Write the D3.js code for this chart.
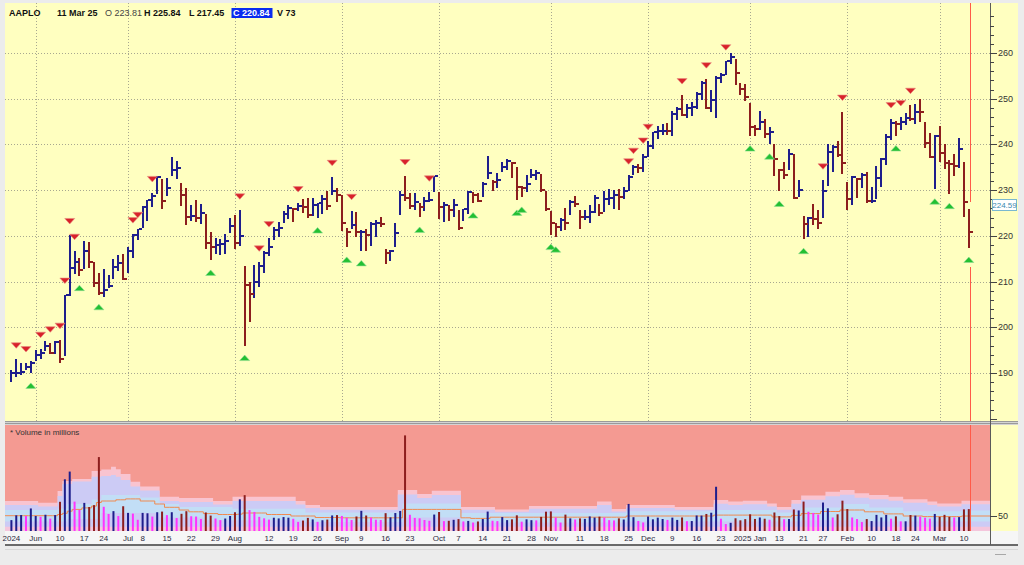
<!DOCTYPE html>
<html>
<head>
<meta charset="UTF-8" />
<style>
  body { margin: 0; background: #ececec; }
  svg { display: block; font-family: "Liberation Sans", Arial, sans-serif; }
</style>
</head>
<body>
<svg id="chart" width="1024" height="565"></svg>
<script src="https://cdnjs.cloudflare.com/ajax/libs/d3/7.8.5/d3.min.js"></script>
<script>
// ---- trading calendar ----
const firstDay = "2024-05-24", lastDay = "2025-03-11";
const holidays = ["2024-05-27", "2024-06-19", "2024-07-04", "2024-09-02", "2024-11-28",
  "2024-12-25", "2025-01-01", "2025-01-09", "2025-01-20", "2025-02-17"];

// ---- daily bars (high / low / close), one line per month ----
const highs = [
  190.58, 193.00, 192.25, 192.18, 192.57,
  194.99, 195.32, 196.90, 196.50, 196.94, 197.30, 207.16, 220.20, 216.75, 215.17, 218.95, 218.63, 214.24, 211.89, 212.70, 211.38, 214.86, 215.74, 216.07,
  217.51, 220.38, 221.55, 226.45, 227.85, 229.40, 233.08, 232.39, 232.64, 237.23, 236.27, 231.46, 230.44, 226.80, 227.78, 226.94, 224.80, 220.85, 219.49, 219.30, 220.33, 223.82,
  224.48, 225.60, 213.50, 209.99, 213.64, 214.20, 216.78, 219.51, 221.89, 223.03, 225.35, 226.83, 225.99, 227.17, 227.98, 228.34, 228.22, 227.28, 228.85, 229.86, 232.92, 230.40,
  229.00, 221.78, 225.48, 225.24, 221.27, 221.48, 223.09, 223.55, 224.04, 217.22, 216.90, 222.71, 229.82, 233.09, 229.45, 229.35, 227.29, 228.50, 229.52, 233.00,
  229.65, 227.37, 226.81, 228.00, 225.69, 225.98, 229.75, 229.50, 229.41, 231.73, 237.49, 232.12, 233.85, 236.18, 236.85, 236.22, 235.14, 230.82, 233.22, 234.73, 234.33, 233.47, 229.83,
  225.35, 222.79, 223.95, 226.07, 227.88, 228.66, 225.70, 225.59, 226.65, 228.87, 226.92, 229.74, 230.16, 229.93, 230.16, 230.72, 233.25, 235.57, 235.69, 237.81,
  240.79, 242.76, 244.11, 244.54, 244.63, 247.24, 248.21, 250.80, 248.74, 249.29, 251.38, 253.83, 254.28, 252.00, 255.00, 255.65, 258.21, 260.10, 258.70, 253.50, 253.28,
  249.10, 244.18, 247.33, 245.55, 243.71, 240.16, 234.67, 236.12, 238.96, 238.01, 232.29, 224.42, 224.12, 227.03, 225.63, 232.15, 240.19, 239.86, 240.79, 247.19,
  231.83, 233.13, 232.67, 233.80, 234.00, 230.59, 235.23, 236.96, 242.34, 245.55, 245.18, 246.01, 246.78, 248.69, 248.86, 250.00, 244.98, 242.46, 242.09,
  244.03, 240.07, 236.55, 237.86, 241.37, 236.16, 225.84
];
const lows = [
  188.04, 189.10, 189.51, 190.63, 189.91,
  192.52, 193.03, 194.87, 194.17, 194.14, 192.15, 193.63, 206.90, 211.60, 211.30, 212.72, 213.00, 208.85, 207.11, 206.59, 208.61, 210.64, 212.35, 210.30,
  211.92, 215.10, 219.03, 221.65, 223.25, 226.37, 229.25, 225.77, 228.68, 233.09, 232.33, 226.64, 222.27, 223.28, 223.09, 222.68, 217.13, 214.62, 216.01, 215.75, 216.12, 220.63,
  217.02, 217.71, 196.00, 201.07, 206.39, 208.83, 211.97, 215.60, 219.01, 219.70, 222.76, 223.65, 223.04, 225.45, 225.05, 223.90, 224.33, 223.89, 224.89, 225.68, 228.88, 227.48,
  221.17, 217.48, 221.52, 219.77, 216.71, 216.73, 217.89, 219.82, 221.91, 213.92, 214.50, 217.54, 224.63, 227.62, 225.81, 225.73, 224.02, 225.41, 227.30, 229.65,
  223.74, 223.02, 223.32, 224.13, 221.33, 223.25, 224.83, 227.17, 227.34, 228.60, 232.37, 229.84, 230.52, 234.01, 234.45, 232.60, 227.76, 228.41, 229.57, 232.55, 232.32, 229.55, 225.37,
  220.27, 219.71, 221.14, 221.19, 224.57, 226.41, 221.50, 223.36, 222.76, 225.00, 224.27, 225.17, 226.66, 225.89, 225.71, 228.06, 229.74, 233.33, 233.81, 233.97,
  237.16, 238.90, 241.25, 242.13, 242.08, 241.75, 245.34, 246.26, 245.68, 246.24, 247.65, 249.78, 247.74, 247.09, 245.69, 253.45, 255.29, 257.63, 253.06, 250.75, 249.43,
  241.82, 241.89, 243.20, 241.35, 240.05, 233.00, 229.72, 232.47, 234.43, 228.03, 228.48, 219.38, 219.79, 222.30, 221.41, 223.98, 230.81, 234.01, 237.21, 233.44,
  225.70, 226.65, 228.27, 230.43, 227.26, 227.20, 228.13, 230.68, 235.57, 240.99, 241.84, 243.16, 244.29, 245.22, 244.42, 244.91, 239.13, 237.06, 230.20,
  236.11, 234.68, 229.23, 233.16, 234.76, 224.22, 217.45
];
const closes = [
  189.98, 189.99, 190.29, 191.29, 192.25,
  194.03, 194.35, 195.87, 194.48, 196.89, 193.12, 207.15, 213.07, 214.24, 212.49, 216.67, 214.29, 209.68, 207.49, 208.14, 209.07, 213.25, 214.10, 210.62,
  216.75, 220.27, 221.55, 226.34, 227.82, 228.68, 232.98, 227.57, 230.54, 234.40, 234.82, 228.88, 224.18, 224.31, 223.96, 225.01, 218.54, 217.49, 217.96, 218.24, 218.80, 222.08,
  218.36, 219.86, 209.27, 207.23, 209.82, 213.31, 216.24, 217.53, 221.27, 221.72, 224.72, 226.05, 225.89, 226.51, 226.40, 224.53, 226.84, 227.18, 228.03, 226.49, 229.79, 229.00,
  222.77, 220.85, 222.38, 220.82, 220.91, 220.11, 222.66, 222.77, 222.50, 216.32, 216.79, 220.69, 228.87, 228.20, 226.47, 227.37, 226.37, 227.52, 227.79, 233.00,
  226.21, 226.78, 225.67, 226.80, 221.69, 225.77, 229.54, 229.04, 227.55, 231.30, 233.85, 231.78, 232.15, 235.00, 236.48, 235.86, 230.76, 230.57, 231.41, 233.40, 233.67, 230.10, 225.91,
  222.91, 222.01, 223.45, 222.72, 227.48, 226.96, 224.23, 224.23, 225.12, 228.22, 225.00, 228.02, 228.28, 229.00, 228.52, 229.87, 232.87, 235.06, 234.93, 237.33,
  239.59, 242.65, 243.01, 243.04, 242.84, 246.75, 247.77, 246.49, 247.96, 248.13, 251.04, 253.48, 248.05, 249.79, 254.49, 255.27, 258.20, 259.02, 255.59, 252.20, 250.42,
  243.85, 243.36, 245.00, 242.21, 242.70, 236.85, 234.40, 233.28, 237.87, 228.26, 229.98, 222.64, 223.83, 223.66, 222.78, 229.86, 238.26, 239.36, 237.59, 236.00,
  228.01, 232.80, 232.47, 233.22, 227.63, 227.65, 232.62, 236.87, 241.53, 244.60, 244.47, 244.87, 245.83, 245.55, 247.10, 247.04, 240.36, 237.30, 241.84,
  238.03, 235.93, 235.74, 235.33, 239.07, 227.48, 220.84
];
// volume in millions
const volumes = [
  36.3, 52.3, 53.1, 49.9, 75.2,
  50.1, 47.5, 54.2, 41.2, 53.1, 97.3, 172.4, 198.1, 97.9, 70.1, 93.7, 79.9, 86.2, 246.4, 80.7, 56.7, 66.2, 49.8, 82.5,
  60.4, 58.0, 37.4, 60.4, 59.1, 48.1, 62.6, 64.7, 53.0, 62.6, 43.2, 57.3, 66.0, 49.2, 48.2, 39.9, 61.8, 51.4, 41.6, 36.3, 41.6, 50.0,
  62.5, 105.6, 119.5, 69.7, 63.5, 47.2, 42.2, 38.0, 44.2, 41.9, 46.4, 44.3, 40.7, 30.3, 34.8, 43.7, 38.7, 30.6, 35.9, 38.1, 51.9, 53.0,
  50.2, 43.8, 36.6, 48.4, 67.2, 51.6, 44.6, 37.5, 36.8, 59.4, 45.5, 59.9, 66.8, 318.7, 54.1, 43.6, 42.3, 36.6, 34.0, 54.8,
  63.3, 32.9, 34.0, 37.3, 39.5, 31.9, 33.6, 28.2, 31.8, 39.9, 64.8, 34.1, 33.0, 46.4, 36.3, 38.8, 52.3, 31.1, 38.8, 36.1, 35.4, 47.1, 64.4,
  65.3, 44.9, 28.1, 54.6, 42.1, 38.3, 42.0, 40.4, 48.6, 44.9, 47.8, 44.7, 36.2, 35.2, 42.1, 38.2, 90.2, 46.0, 33.5, 28.5,
  48.1, 38.9, 44.4, 40.0, 36.9, 44.6, 36.9, 45.2, 32.8, 33.2, 51.7, 51.4, 56.8, 60.9, 147.5, 40.9, 23.2, 27.3, 42.4, 35.6, 39.5,
  55.7, 40.2, 45.0, 40.9, 37.6, 61.7, 49.6, 39.4, 39.8, 71.8, 68.5, 98.1, 64.1, 60.2, 54.7, 94.9, 75.7, 45.1, 55.7, 101.1,
  73.1, 45.1, 39.7, 29.9, 39.7, 33.1, 53.7, 45.2, 53.6, 40.9, 48.8, 32.2, 32.3, 53.2, 51.3, 48.0, 44.4, 41.2, 56.8,
  47.2, 53.8, 47.2, 45.2, 46.3, 72.1, 73.0
];

// swing markers
const peakDates = ["2024-05-28", "2024-05-30", "2024-06-04", "2024-06-06", "2024-06-10", "2024-06-11", "2024-06-12",
  "2024-06-13", "2024-07-02", "2024-07-03", "2024-07-09", "2024-08-02", "2024-08-08", "2024-08-12", "2024-08-20",
  "2024-08-29", "2024-09-05", "2024-09-20", "2024-09-27", "2024-11-25", "2024-11-26", "2024-11-29", "2024-12-02",
  "2024-12-11", "2024-12-18", "2024-12-24", "2025-01-27", "2025-01-31", "2025-02-14", "2025-02-19", "2025-02-21"];
const troughDates = ["2024-05-31", "2024-06-14", "2024-06-21", "2024-07-25", "2024-08-05", "2024-08-26", "2024-09-04",
  "2024-09-09", "2024-09-25", "2024-10-10", "2024-10-23", "2024-10-24", "2024-11-01", "2024-11-04", "2025-01-02",
  "2025-01-08", "2025-01-13", "2025-01-21", "2025-02-18", "2025-02-28", "2025-03-05", "2025-03-11"];

// volume envelope, [from date, level in millions]
const bandOuter = [["2024-05-24", 100], ["2024-06-04", 94], ["2024-06-10", 133], ["2024-06-11", 167], ["2024-06-13", 173],
  ["2024-06-20", 200], ["2024-06-24", 205], ["2024-06-26", 214], ["2024-06-27", 206], ["2024-06-28", 190], ["2024-07-02", 164],
  ["2024-07-05", 148], ["2024-07-11", 114], ["2024-07-17", 110], ["2024-07-26", 100], ["2024-08-01", 114], ["2024-08-20", 100],
  ["2024-08-22", 87], ["2024-08-27", 80], ["2024-09-19", 137], ["2024-09-25", 123], ["2024-09-30", 134], ["2024-10-08", 80],
  ["2024-10-17", 72], ["2024-10-28", 83], ["2024-11-15", 98], ["2024-11-20", 73], ["2024-11-25", 87], ["2024-12-10", 80],
  ["2024-12-20", 103], ["2024-12-26", 98], ["2024-12-31", 101], ["2025-01-08", 92], ["2025-01-13", 80], ["2025-01-16", 103],
  ["2025-01-21", 118], ["2025-01-28", 131], ["2025-01-31", 137], ["2025-02-05", 126], ["2025-02-10", 120], ["2025-02-14", 114],
  ["2025-02-20", 106], ["2025-02-27", 98], ["2025-03-03", 92], ["2025-03-10", 101]];
const bandInner = [["2024-05-24", 87], ["2024-06-04", 82], ["2024-06-10", 117], ["2024-06-11", 157], ["2024-06-13", 165],
  ["2024-06-20", 181], ["2024-06-24", 183], ["2024-06-26", 187], ["2024-06-27", 181], ["2024-06-28", 170], ["2024-07-02", 148],
  ["2024-07-05", 135], ["2024-07-11", 100], ["2024-07-17", 97], ["2024-07-26", 88], ["2024-08-01", 100], ["2024-08-20", 88],
  ["2024-08-22", 77], ["2024-08-27", 71], ["2024-09-19", 122], ["2024-09-25", 110], ["2024-09-30", 120], ["2024-10-08", 71],
  ["2024-10-17", 64], ["2024-10-28", 74], ["2024-11-15", 87], ["2024-11-20", 65], ["2024-11-25", 77], ["2024-12-10", 71],
  ["2024-12-20", 91], ["2024-12-26", 87], ["2024-12-31", 89], ["2025-01-08", 82], ["2025-01-13", 71], ["2025-01-16", 91],
  ["2025-01-21", 104], ["2025-01-28", 116], ["2025-01-31", 121], ["2025-02-05", 111], ["2025-02-10", 106], ["2025-02-14", 101],
  ["2025-02-20", 94], ["2025-02-27", 87], ["2025-03-03", 82], ["2025-03-10", 89]];
const bandMidTop = [["2024-05-24", 70], ["2024-06-10", 74], ["2024-06-12", 90], ["2024-06-20", 105], ["2024-06-24", 120],
  ["2024-07-05", 112], ["2024-07-11", 90], ["2024-07-17", 80], ["2024-08-01", 74], ["2024-08-22", 62], ["2024-09-20", 92],
  ["2024-10-08", 60], ["2024-11-25", 66], ["2024-12-20", 70], ["2025-01-13", 62], ["2025-01-21", 78], ["2025-01-31", 90],
  ["2025-02-10", 78], ["2025-02-20", 66], ["2025-03-10", 68]];
const bandMidLow = [["2024-05-24", 32], ["2024-06-12", 40], ["2024-06-24", 60], ["2024-07-11", 45], ["2024-07-24", 36],
  ["2024-08-22", 30], ["2024-09-20", 45], ["2024-10-08", 28], ["2024-11-25", 32], ["2025-01-21", 36], ["2025-02-10", 32]];
const bandFloor = [["2024-05-24", 14]];
const volAvg = [["2024-05-24", 51], ["2024-06-10", 55], ["2024-06-11", 59], ["2024-06-12", 66], ["2024-06-13", 72],
  ["2024-06-17", 77], ["2024-06-20", 83], ["2024-06-21", 95], ["2024-06-24", 100], ["2024-06-27", 104], ["2024-07-01", 107],
  ["2024-07-05", 100], ["2024-07-10", 90], ["2024-07-12", 79], ["2024-07-17", 70], ["2024-07-19", 64], ["2024-07-24", 58],
  ["2024-07-29", 55], ["2024-08-02", 56], ["2024-08-05", 60], ["2024-08-12", 55], ["2024-08-19", 50], ["2024-08-26", 45],
  ["2024-09-03", 44], ["2024-09-20", 72], ["2024-10-08", 44], ["2024-10-10", 42], ["2024-10-16", 46], ["2024-11-25", 50],
  ["2024-12-20", 53], ["2025-01-10", 47], ["2025-01-16", 52], ["2025-01-21", 58], ["2025-01-27", 65], ["2025-01-31", 70],
  ["2025-02-07", 64], ["2025-02-13", 57], ["2025-02-20", 50], ["2025-02-26", 48], ["2025-03-10", 50]];

// date axis labels
const dateTicks = [["2024-05-24", "2024"], ["2024-06-03", "Jun"], ["2024-06-10", "10"], ["2024-06-17", "17"],
  ["2024-06-24", "24"], ["2024-07-01", "Jul"], ["2024-07-05", "8"], ["2024-07-12", "15"], ["2024-07-19", "22"],
  ["2024-07-26", "29"], ["2024-08-01", "Aug"], ["2024-08-12", "12"], ["2024-08-19", "19"], ["2024-08-26", "26"],
  ["2024-09-03", "Sep"], ["2024-09-09", "9"], ["2024-09-16", "16"], ["2024-09-23", "23"], ["2024-10-01", "Oct"],
  ["2024-10-07", "7"], ["2024-10-14", "14"], ["2024-10-21", "21"], ["2024-10-28", "28"], ["2024-11-01", "Nov"],
  ["2024-11-11", "11"], ["2024-11-18", "18"], ["2024-11-25", "25"], ["2024-12-02", "Dec"], ["2024-12-09", "9"],
  ["2024-12-16", "16"], ["2024-12-23", "23"], ["2025-01-02", "2025 Jan"], ["2025-01-13", "13"], ["2025-01-21", "21"],
  ["2025-01-27", "27"], ["2025-02-03", "Feb"], ["2025-02-10", "10"], ["2025-02-18", "18"], ["2025-02-24", "24"],
  ["2025-03-03", "Mar"], ["2025-03-10", "10"]];
const monthNames = ["Jun", "Jul", "Aug", "Sep", "Oct", "Nov", "Dec", "2025 Jan", "Feb", "Mar"];
const priceTicks = [190, 200, 210, 220, 230, 240, 250, 260];
const lastLabel = 224.59;
const header = { sym: "AAPLO", date: "11 Mar 25", o: "O 223.81", h: "H 225.84", l: "L 217.45", c: "C 220.84", v: "V 73" };

// ---- build rows ----
const parse = d3.timeParse("%Y-%m-%d"), fmt = d3.timeFormat("%Y-%m-%d");
const days = d3.timeDay.range(parse(firstDay), d3.timeDay.offset(parse(lastDay), 1))
  .filter(d => d.getDay() !== 0 && d.getDay() !== 6 && !holidays.includes(fmt(d)))
  .map(fmt);
const n = days.length;
const idx = new Map(days.map((d, i) => [d, i]));
const bars = days.map((d, i) => ({
  d, i, h: highs[i], l: lows[i], c: closes[i], v: volumes[i],
  up: i === 0 ? true : closes[i] >= closes[i - 1],
  // volume below both of the two previous sessions
  quiet: i > 1 && volumes[i] < volumes[i - 1] && volumes[i] < volumes[i - 2]
}));

function stepValues(runs) {
  const out = new Array(n);
  runs.forEach(([d, v], k) => {
    const s = idx.get(d), e = k + 1 < runs.length ? idx.get(runs[k + 1][0]) : n;
    for (let i = s; i < e; i++) out[i] = v;
  });
  return out;
}

// ---- layout ----
const W = 1024, H = 565;
const plotL = 5, plotR = 990, axisR = 1018;
const pTop = 3, pBot = 421, vTop = 425, vBot = 531, dBot = 545;

const svg = d3.select("#chart");
const x = d3.scalePoint().domain(days).range([11.4, 968.8]);
const step = x.step();
const y = d3.scaleLinear().domain([190, 260]).range([373, 53]);
const yv = d3.scaleLinear().domain([0, 50]).range([vBot, vBot - 15]);

const BLUE = "#1e1e8c", RED = "#8c1e1e", MAG = "#ff33ff";

// backgrounds
svg.append("rect").attr("width", W).attr("height", H).attr("fill", "#ececec");
svg.append("rect").attr("x", plotL).attr("y", pTop).attr("width", axisR - plotL).attr("height", pBot - pTop).attr("fill", "#ffffc0");
svg.append("rect").attr("x", plotL).attr("y", pBot).attr("width", axisR - plotL).attr("height", vTop - pBot).attr("fill", "#d4d4d4");
svg.append("line").attr("x1", plotL).attr("x2", axisR).attr("y1", pBot + 0.5).attr("y2", pBot + 0.5).attr("stroke", "#9a9a9a");
svg.append("line").attr("x1", plotL).attr("x2", axisR).attr("y1", vTop - 1.5).attr("y2", vTop - 1.5).attr("stroke", "#9a9a9a");
svg.append("rect").attr("x", plotL).attr("y", vTop).attr("width", plotR - plotL).attr("height", vBot - vTop).attr("fill", "#f49a92");
svg.append("rect").attr("x", plotR).attr("y", vTop).attr("width", axisR - plotR).attr("height", vBot - vTop).attr("fill", "#ffffc0");
svg.append("rect").attr("x", plotL).attr("y", vBot).attr("width", axisR - plotL).attr("height", dBot - vBot).attr("fill", "#f6f6f6");
svg.append("line").attr("x1", plotL).attr("x2", axisR).attr("y1", dBot).attr("y2", dBot).attr("stroke", "#6a6a6a").attr("stroke-width", 2);
svg.append("line").attr("x1", plotL).attr("x2", axisR).attr("y1", dBot + 4.5).attr("y2", dBot + 4.5).attr("stroke", "#d8d8d8");
svg.append("line").attr("x1", 995).attr("x2", 1006).attr("y1", 554.5).attr("y2", 554.5).attr("stroke", "#a8a8a8");

// ---- volume envelope ----
function bandPoints(hi, lo) {
  const pts = days.map((d, i) => ({ x: i === 0 ? plotL : x(d) - step / 2, hi: hi[i], lo: lo ? lo[i] : 0 }));
  pts.push({ x: plotR, hi: hi[n - 1], lo: lo ? lo[n - 1] : 0 });
  return pts;
}
const area = d3.area().curve(d3.curveStepAfter).x(p => p.x).y0(p => yv(p.lo)).y1(p => yv(p.hi));
const gBand = svg.append("g");
gBand.append("path").attr("d", area(bandPoints(stepValues(bandOuter)))).attr("fill", "#f9c4d0");
gBand.append("path").attr("d", area(bandPoints(stepValues(bandInner)))).attr("fill", "#cccbf5");
gBand.append("path").attr("d", area(bandPoints(stepValues(bandMidTop), stepValues(bandMidLow)))).attr("fill", "#c2def6");
gBand.append("path").attr("d", area(bandPoints(stepValues(bandFloor)))).attr("fill", "#f4c6dc");
const avgLine = d3.line().curve(d3.curveStepAfter).x(p => p.x).y(p => yv(p.hi));
gBand.append("path").attr("d", avgLine(bandPoints(stepValues(volAvg)))).attr("fill", "none")
  .attr("stroke", "#f08a50").attr("stroke-width", 1);

// volume bars
svg.append("g").selectAll("rect").data(bars).join("rect")
  .attr("x", b => x(b.d) - 1).attr("width", 2)
  .attr("y", b => yv(b.v)).attr("height", b => yv(0) - yv(b.v))
  .attr("fill", b => b.quiet ? MAG : (b.up ? BLUE : RED));

svg.append("text").attr("x", 10).attr("y", 435).attr("font-size", 8).attr("fill", "#333")
  .text("* Volume in millions");

// ---- price grid ----
const gGrid = svg.append("g").attr("stroke", "#a8a890").attr("stroke-dasharray", "1,2");
gGrid.selectAll("line.h").data(priceTicks).join("line")
  .attr("x1", plotL).attr("x2", plotR).attr("y1", t => Math.round(y(t)) + 0.5).attr("y2", t => Math.round(y(t)) + 0.5);
gGrid.selectAll("line.v").data(dateTicks.filter(t => monthNames.includes(t[1]))).join("line")
  .attr("x1", t => Math.round(x(t[0])) + 0.5).attr("x2", t => Math.round(x(t[0])) + 0.5)
  .attr("y1", pTop).attr("y2", pBot);

// last-bar marker line
const lastX = Math.round(x(days[n - 1])) + 1.5;
svg.append("g").attr("stroke", "#ff5a48").attr("stroke-width", 1).selectAll("line")
  .data([[pTop, 202], [267, pBot], [vTop, vBot]]).join("line")
  .attr("x1", lastX).attr("x2", lastX).attr("y1", s => s[0]).attr("y2", s => s[1]);

// ---- HLC bars ----
const gBars = svg.append("g").attr("shape-rendering", "crispEdges");
gBars.selectAll("rect.r").data(bars).join("rect")
  .attr("x", b => Math.round(x(b.d)) - 1).attr("width", 2)
  .attr("y", b => y(b.h)).attr("height", b => Math.max(1, y(b.l) - y(b.h)))
  .attr("fill", b => b.up ? BLUE : RED);
gBars.selectAll("rect.c").data(bars).join("rect")
  .attr("x", b => Math.round(x(b.d)) + 1).attr("width", 3)
  .attr("y", b => Math.round(y(b.c)) - 1).attr("height", 2)
  .attr("fill", b => b.up ? BLUE : RED);

// swing triangles
svg.append("g").selectAll("path").data(peakDates).join("path")
  .attr("d", d => {
    const cx = x(d), ty = y(highs[idx.get(d)]) - 16.5;
    return `M${cx - 5},${ty}L${cx + 5},${ty}L${cx},${ty + 5.5}Z`;
  })
  .attr("fill", "#d8222a").attr("stroke", "#e88a80").attr("stroke-width", 0.6);
svg.append("g").selectAll("path").data(troughDates).join("path")
  .attr("d", d => {
    const cx = x(d), by = y(lows[idx.get(d)]) + 15;
    return `M${cx - 5},${by}L${cx + 5},${by}L${cx},${by - 5.5}Z`;
  })
  .attr("fill", "#22c032").attr("stroke", "#90dc90").attr("stroke-width", 0.6);

// ---- right axis ----
svg.append("line").attr("x1", plotR + 0.5).attr("x2", plotR + 0.5).attr("y1", pTop).attr("y2", dBot)
  .attr("stroke", "#5a5a5a");
const minor = d3.range(180, 270, 2);
svg.append("g").attr("stroke", "#444").selectAll("line").data(minor).join("line")
  .attr("x1", plotR).attr("x2", t => t % 10 === 0 ? plotR + 7 : plotR + 4)
  .attr("y1", t => Math.round(y(t)) + 0.5).attr("y2", t => Math.round(y(t)) + 0.5);
svg.append("g").selectAll("text").data(priceTicks).join("text")
  .attr("x", plotR + 8).attr("y", t => y(t) + 3).attr("font-size", 9).attr("fill", "#333")
  .text(t => t);
svg.append("line").attr("x1", plotR).attr("x2", plotR + 7).attr("y1", Math.round(yv(50)) + 0.5)
  .attr("y2", Math.round(yv(50)) + 0.5).attr("stroke", "#444");
svg.append("text").attr("x", plotR + 8).attr("y", yv(50) + 3).attr("font-size", 9).attr("fill", "#333").text("50");

// last value box
const boxY = Math.round(y(lastLabel) - 15.5) + 0.5;
svg.append("rect").attr("x", 992.5).attr("y", boxY).attr("width", 24).attr("height", 11)
  .attr("fill", "#ffffff").attr("stroke", "#7ab8d0");
svg.append("text").attr("x", 1004.5).attr("y", boxY + 8.5).attr("text-anchor", "middle")
  .attr("font-size", 8).attr("fill", "#3a8ab0").text(lastLabel.toFixed(2));

// ---- date axis ----
svg.append("g").selectAll("text").data(dateTicks).join("text")
  .attr("x", t => x(t[0])).attr("y", 541).attr("text-anchor", "middle")
  .attr("font-size", 8).attr("fill", "#2a2a40").text(t => t[1]);

// ---- header ----
const hdr = svg.append("g").attr("font-size", 9).attr("font-weight", "bold").attr("fill", "#111");
hdr.append("text").attr("x", 9).attr("y", 16).text(header.sym);
hdr.append("text").attr("x", 57).attr("y", 16).text(header.date);
hdr.append("text").attr("x", 105).attr("y", 16).attr("font-weight", "normal").attr("fill", "#444").text(header.o);
hdr.append("text").attr("x", 144).attr("y", 16).text(header.h);
hdr.append("text").attr("x", 189).attr("y", 16).text(header.l);
hdr.append("rect").attr("x", 231.5).attr("y", 8).attr("width", 41).attr("height", 10).attr("fill", "#0a2cf0");
hdr.append("text").attr("x", 233).attr("y", 16).attr("fill", "#fff").text(header.c);
hdr.append("text").attr("x", 277).attr("y", 16).text(header.v);
</script>
</body>
</html>
